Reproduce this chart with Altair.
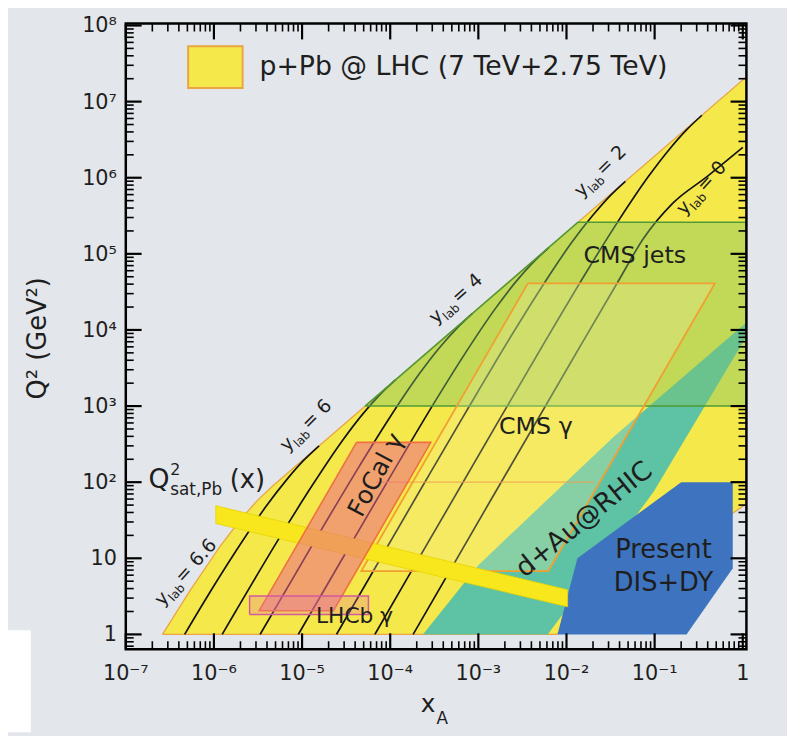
import altair as alt
import pandas as pd

# ---------------- values ----------------
x_tick_labels = ["10⁻⁷", "10⁻⁶", "10⁻⁵", "10⁻⁴", "10⁻³", "10⁻²", "10⁻¹", "1"]
y_tick_labels = ["1", "10", "10²", "10³", "10⁴", "10⁵", "10⁶", "10⁷", "10⁸"]
x_major = [1e-7, 1e-6, 1e-5, 1e-4, 1e-3, 1e-2, 1e-1, 1.0]
y_major = [1.0, 10.0, 1e2, 1e3, 1e4, 1e5, 1e6, 1e7, 1e8]
minor_mult = [2, 3, 4, 5, 6, 7, 8, 9]
y_below_one = [0.7, 0.8, 0.9]

# p+Pb @ LHC coverage (yellow)
ppb_x = [2.61e-7, 5.24e-7, 1.18e-6, 2.02e-6, 3.14e-6, 4.71e-6, 1.1, 1.1, 7.7e-3]
ppb_q2 = [1, 3.62, 14.5, 32.7, 58.1, 90.6, 2.12e7, 52, 1]

# CMS jets (green)
cmsjet_x = [5.19e-5, 1.35e-2, 1.1, 1.1]
cmsjet_q2 = [1e3, 2.6e5, 2.6e5, 1e3]

# CMS gamma (orange outline)
cmsg_x = [3.65e-3, 0.484, 6.23e-3, 4.70e-5]
cmsg_q2 = [4.1e4, 4.1e4, 6.8, 6.8]
cmsg_edge_x = [6.97e-5, 2.07e-2]
cmsg_edge_q2 = [100, 100]

# FoCal gamma (red)
focal_x = [4.15e-5, 2.89e-4, 2.27e-5, 3.26e-6]
focal_q2 = [333, 333, 2.05, 2.05]

# LHCb gamma (pink)
lhcb_x = [2.54e-6, 5.66e-5, 5.66e-5, 2.54e-6]
lhcb_q2 = [1.82, 1.82, 3.2, 3.2]

# d+Au @ RHIC (teal)
dau_x = [2.35e-4, 1.0e-3, 3.46e-2, 1.1, 1.1, 9.75e-2, 6.12e-3]
dau_q2 = [1, 8.13, 399, 1.25e4, 8.2e3, 74.6, 1]

# Present DIS+DY (blue)
dis_x = [7.9e-3, 1.33e-2, 0.20, 0.77, 0.77, 0.23]
dis_q2 = [1, 10, 100, 100, 7.4, 1]

# Q^2_sat,Pb(x) band
qsat_x = [1.05e-6, 1.03e-2, 1.03e-2, 1.05e-6]
qsat_q2 = [49, 3.85, 2.31, 28.6]

# constant y_lab curves
ylab6_x = [4.65e-7, 8.22e-7, 1.74e-6, 3.91e-6, 6.70e-6, 1.04e-5, 1.56e-5]
ylab6_q2 = [1, 3.01, 12.0, 48.2, 108, 193, 301]
ylab5_x = [1.24e-6, 1.76e-6, 6.08e-6, 1.29e-5, 2.89e-5, 4.95e-5, 7.71e-5, 1.16e-4]
ylab5_q2 = [1, 2.0, 22.2, 88.9, 356, 801, 1426, 2223]
ylab4_x = [3.34e-6, 1.30e-5, 4.49e-5, 9.48e-5, 2.13e-4, 3.66e-4, 5.69e-4, 8.53e-4]
ylab4_q2 = [1, 14.8, 164, 656, 2630, 5916, 1.05e4, 1.64e4]
ylab3_x = [9.07e-6, 3.17e-5, 9.62e-5, 3.32e-4, 7.02e-4, 1.58e-3, 2.70e-3, 4.21e-3, 6.31e-3]
ylab3_q2 = [1, 12.1, 109, 1213, 4853, 1.95e4, 4.38e4, 7.78e4, 1.21e5]
ylab2_x = [2.46e-5, 2.34e-4, 7.10e-4, 2.45e-3, 5.18e-3, 1.16e-2, 2.00e-2, 3.10e-2, 4.66e-2]
ylab2_q2 = [1, 89.7, 807, 8970, 3.59e4, 1.44e5, 3.23e5, 5.74e5, 8.97e5]
ylab1_x = [6.69e-5, 1.72e-4, 1.73e-3, 5.25e-3, 1.81e-2, 3.83e-2, 8.61e-2, 0.148, 0.230, 0.344]
ylab1_q2 = [1, 6.62, 662, 5970, 6.62e4, 2.65e5, 1.06e6, 2.39e6, 4.25e6, 6.62e6]
ylab0_x = [1.82e-4, 1.27e-3, 1.28e-2, 3.88e-2, 0.075, 0.16, 0.40, 1.0]
ylab0_q2 = [1, 49, 4900, 4.4e4, 1.6e5, 4.6e5, 1.05e6, 2.5e6]

# y_lab curve labels
ylab_text = ["6.6", "6", "4", "2", "0"]
ylab_lab_x = [2.61e-7, 6.78e-6, 3.29e-4, 1.476e-2, 0.217]
ylab_lab_q2 = [2.31, 247, 1.175e4, 5.43e5, 3.17e5]
ylab_lab_angle = [312, 315, 318, 315.5, 312]

# region labels
lab24_text = ["CMS jets", "CMS γ"]
lab24_x = [0.0596, 4.49e-3]
lab24_q2 = [9.27e4, 522]
lab26_text = ["Present", "DIS+DY"]
lab26_x = [0.126, 0.126]
lab26_q2 = [12.7, 4.74]
lhcb_lab = ["LHCb γ"]
lhcb_lab_x = [3.94e-5]
lhcb_lab_q2 = [1.72]
dau_lab = ["d+Au@RHIC"]
dau_lab_x = [0.0159]
dau_lab_q2 = [32.2]
focal_lab = ["FoCal γ"]
focal_lab_x = [6.9e-5]
focal_lab_q2 = [125]
qsat_lab_x = [1.81e-7]
qsat_lab_q2 = [84.1]

legend_text = "p+Pb @ LHC (7 TeV+2.75 TeV)"

# ---------------- chart ----------------
FONT = "DejaVu Sans"
TXT = "#1e1e1e"
W, H = 627, 632

xsc = alt.Scale(type="log", domain=[1e-7, 1.1], nice=False)
ysc = alt.Scale(type="log", domain=[0.64, 1.06e8], nice=False)


def X():
    return alt.X("x:Q", scale=xsc, axis=None)


def Y():
    return alt.Y("q2:Q", scale=ysc, axis=None)


def polygon(xs, qs, fill, op=1.0, stroke="#000000", sw=0.0):
    df = pd.DataFrame({"x": list(xs) + [xs[0]], "q2": list(qs) + [qs[0]],
                       "o": list(range(len(xs) + 1))})
    return alt.Chart(df).mark_line(stroke=stroke, strokeWidth=sw, clip=True,
                                   interpolate="linear").encode(
        x=X(), y=Y(), order="o:Q", fill=alt.value(fill), fillOpacity=alt.value(op))


def text_at(texts, xs, qs, size, angle=0, dx=0, dy=0, align="center", baseline="middle"):
    df = pd.DataFrame({"t": texts, "x": xs, "q2": qs})
    return alt.Chart(df).mark_text(font=FONT, fontSize=size, color=TXT, angle=angle,
                                   dx=dx, dy=dy, align=align, baseline=baseline).encode(
        x=X(), y=Y(), text="t:N")


layers = []

# white patch at lower-left corner of the page
layers.append(alt.Chart(pd.DataFrame({"a": [0]})).mark_rect(color="white").encode(
    x=alt.value(-119), x2=alt.value(-96), y=alt.value(613), y2=alt.value(716)))

layers.append(polygon(ppb_x, ppb_q2, "#f5e84a", 1.0, "#e9a443", 1.3))

line_sets = [("6", ylab6_x, ylab6_q2), ("5", ylab5_x, ylab5_q2), ("4", ylab4_x, ylab4_q2),
             ("3", ylab3_x, ylab3_q2), ("2", ylab2_x, ylab2_q2), ("1", ylab1_x, ylab1_q2),
             ("0", ylab0_x, ylab0_q2)]
rows = []
for name, xs, qs in line_sets:
    for i, (a, b) in enumerate(zip(xs, qs)):
        rows.append({"ylab": name, "x": a, "q2": b, "o": i})
lines_df = pd.DataFrame(rows)
layers.append(alt.Chart(lines_df).mark_line(color="#141414", strokeWidth=1.7, clip=True,
                                            interpolate="monotone").encode(
    x=X(), y=Y(), detail="ylab:N", order="o:Q"))

layers.append(polygon(dau_x, dau_q2, "#5ec3a5", 1.0))
layers.append(polygon(dis_x, dis_q2, "#3e74bf", 1.0))
layers.append(polygon(cmsjet_x, cmsjet_q2, "#7cc46a", 0.42, "#4f9a36", 1.6))
layers.append(polygon(cmsg_x, cmsg_q2, "#f5f0a0", 0.28, "#f0a032", 1.8))
layers.append(alt.Chart(pd.DataFrame({"x": cmsg_edge_x, "q2": cmsg_edge_q2})).mark_line(
    color="#f0a050", strokeWidth=1.2, opacity=0.8, clip=True).encode(x=X(), y=Y()))
layers.append(polygon(qsat_x, qsat_q2, "#f7e71c", 1.0, "#e8d400", 0.8))
layers.append(polygon(focal_x, focal_q2, "#ec668a", 0.55, "#ef7040", 1.6))
layers.append(polygon(lhcb_x, lhcb_q2, "#e87aa8", 0.3, "#d45aa0", 1.5))

# region labels
layers.append(text_at(lab24_text, lab24_x, lab24_q2, 24))
layers.append(text_at(lab26_text, lab26_x, lab26_q2, 26))
layers.append(text_at(lhcb_lab, lhcb_lab_x, lhcb_lab_q2, 22))
layers.append(text_at(dau_lab, dau_lab_x, dau_lab_q2, 27, angle=321))
layers.append(text_at(focal_lab, focal_lab_x, focal_lab_q2, 25, angle=298))

# y_lab labels (y, subscript lab, = value), rotated along the curves
ylab_df = pd.DataFrame({"v": ylab_text, "x": ylab_lab_x, "q2": ylab_lab_q2, "a": ylab_lab_angle})
ylab_df["y"] = "y"
ylab_df["lab"] = "lab"
ylab_df["eq"] = "= " + ylab_df["v"]
for field, size, dx, dy in [("y", 19, 0, 0), ("lab", 12, 11, 5), ("eq", 19, 31, 0)]:
    layers.append(alt.Chart(ylab_df).mark_text(font=FONT, fontSize=size, color=TXT, align="left",
                                               baseline="alphabetic", dx=dx, dy=dy).encode(
        x=X(), y=Y(), text=f"{field}:N", angle=alt.Angle("a:Q", scale=None)))

# Q^2_sat,Pb(x) label
qs_df = pd.DataFrame({"x": qsat_lab_x, "q2": qsat_lab_q2})
for txt, size, dx, dy in [("Q", 27, 0, 0), ("2", 16, 22, -13), ("sat,Pb", 17, 22, 7), ("(x)", 26, 82, 0)]:
    layers.append(alt.Chart(qs_df).mark_text(font=FONT, fontSize=size, color=TXT, align="left",
                                             baseline="alphabetic", dx=dx, dy=dy, text=txt).encode(
        x=X(), y=Y()))

# legend
layers.append(alt.Chart(pd.DataFrame({"a": [0]})).mark_rect(fill="#f5e84a", stroke="#e9a443",
                                                            strokeWidth=2).encode(
    x=alt.value(63), x2=alt.value(118), y=alt.value(23), y2=alt.value(65)))
layers.append(alt.Chart(pd.DataFrame({"t": [legend_text]})).mark_text(
    font=FONT, fontSize=27, color=TXT, align="left", baseline="middle").encode(
    x=alt.value(135), y=alt.value(44), text="t:N"))

# axis titles
layers.append(alt.Chart(pd.DataFrame({"t": ["Q² (GeV²)"]})).mark_text(
    font=FONT, fontSize=26, color=TXT, angle=270, align="center", baseline="middle").encode(
    x=alt.value(-89), y=alt.value(318), text="t:N"))
layers.append(alt.Chart(pd.DataFrame({"t": ["x"]})).mark_text(
    font=FONT, fontSize=25, color=TXT, align="left", baseline="alphabetic").encode(
    x=alt.value(298), y=alt.value(695), text="t:N"))
layers.append(alt.Chart(pd.DataFrame({"t": ["A"]})).mark_text(
    font=FONT, fontSize=17, color=TXT, align="left", baseline="alphabetic").encode(
    x=alt.value(314), y=alt.value(708), text="t:N"))

# tick labels
layers.append(alt.Chart(pd.DataFrame({"x": x_major, "t": x_tick_labels})).mark_text(
    font=FONT, fontSize=21, color=TXT, align="center", baseline="alphabetic").encode(
    x=X(), y=alt.value(H + 31), text="t:N"))
layers.append(alt.Chart(pd.DataFrame({"q2": y_major, "t": y_tick_labels})).mark_text(
    font=FONT, fontSize=21, color=TXT, align="right", baseline="middle", dy=1).encode(
    y=Y(), x=alt.value(-9), text="t:N"))

# inward ticks on all four sides
x_minor = [m * d for d in x_major[:-1] for m in minor_mult]
y_minor = y_below_one + [m * d for d in y_major[:-1] for m in minor_mult]
xmaj_df = pd.DataFrame({"x": x_major})
xmin_df = pd.DataFrame({"x": x_minor})
ymaj_df = pd.DataFrame({"q2": y_major})
ymin_df = pd.DataFrame({"q2": y_minor})
for df, L, sw in [(xmaj_df, 16, 2.2), (xmin_df, 8, 1.6)]:
    layers.append(alt.Chart(df).mark_rule(color="black", strokeWidth=sw).encode(
        x=X(), y=alt.value(H), y2=alt.value(H - L)))
    layers.append(alt.Chart(df).mark_rule(color="black", strokeWidth=sw).encode(
        x=X(), y=alt.value(0), y2=alt.value(L)))
for df, L, sw in [(ymaj_df, 16, 2.2), (ymin_df, 8, 1.6)]:
    layers.append(alt.Chart(df).mark_rule(color="black", strokeWidth=sw).encode(
        y=Y(), x=alt.value(0), x2=alt.value(L)))
    layers.append(alt.Chart(df).mark_rule(color="black", strokeWidth=sw).encode(
        y=Y(), x=alt.value(W), x2=alt.value(W - L)))

# frame on top
layers.append(alt.Chart(pd.DataFrame({"a": [0]})).mark_rect(fillOpacity=0, stroke="black",
                                                            strokeWidth=2.5).encode(
    x=alt.value(0), x2=alt.value(W), y=alt.value(0), y2=alt.value(H)))

chart = alt.layer(*layers).properties(
    width=W, height=H,
    autosize=alt.AutoSizeParams(type="none"),
    padding={"left": 119, "top": 12, "right": 41, "bottom": 84},
    background="#e3e6ea",
).configure_view(stroke=None)

chart.save("out.html", embed_options={"renderer": "svg", "actions": False})
